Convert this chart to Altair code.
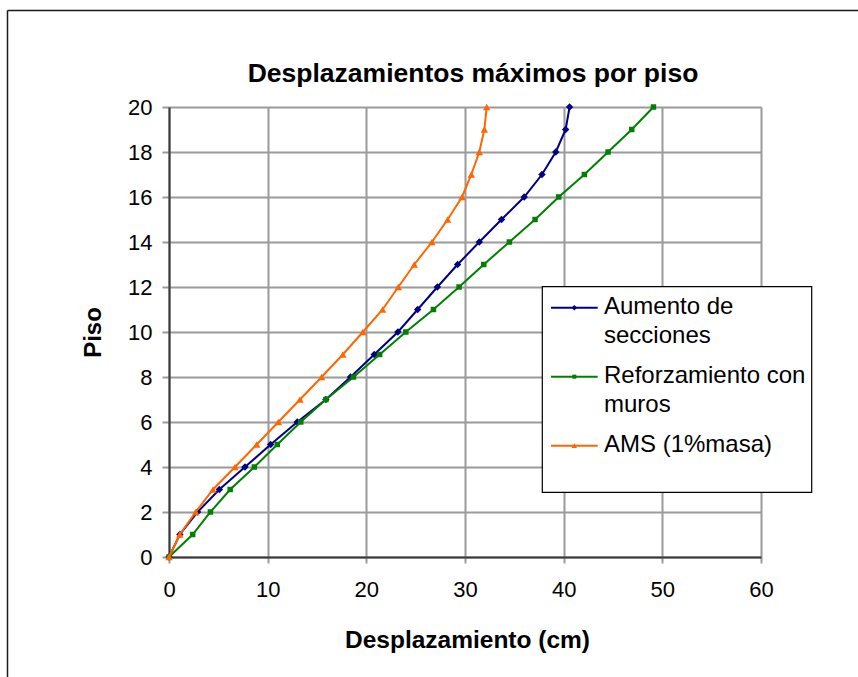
import altair as alt
import pandas as pd

# Maximum displacement per floor (cm) for each retrofit alternative
pisos = list(range(21))
aumento_secciones = [0, 1.1, 2.9, 5.1, 7.7, 10.3, 13.0, 15.9, 18.4, 20.8, 23.2,
                     25.2, 27.2, 29.25, 31.45, 33.7, 36.0, 37.8, 39.2, 40.2, 40.6]
reforzamiento_muros = [0, 2.4, 4.2, 6.2, 8.65, 10.97, 13.35, 15.9, 18.7, 21.35, 24.0,
                       26.8, 29.4, 31.9, 34.5, 37.1, 39.5, 42.1, 44.5, 46.9, 49.1]
ams_masa = [0, 1.09, 2.71, 4.46, 6.69, 8.89, 11.08, 13.28, 15.47, 17.62, 19.65,
            21.65, 23.24, 24.86, 26.65, 28.24, 29.7, 30.64, 31.45, 31.96, 32.2]

series_names = ["Aumento de secciones", "Reforzamiento con muros", "AMS (1%masa)"]
series_values = [aumento_secciones, reforzamiento_muros, ams_masa]
series_colors = ["#000080", "#008000", "#FF6600"]
series_shapes = ["diamond", "square", "triangle-up"]
series_sizes = [55, 30, 55]
legend_text = [["Aumento de", "secciones"], ["Reforzamiento con", "muros"], ["AMS (1%masa)"]]
chart_title = "Desplazamientos máximos por piso"

x_ticks = [0, 10, 20, 30, 40, 50, 60]
y_ticks = list(range(0, 21, 2))

rows = []
for name, vals in zip(series_names, series_values):
    for p, v in zip(pisos, vals):
        rows.append({"serie": name, "piso": p, "desplazamiento": v})
df = pd.DataFrame(rows)

FONT = "Liberation Sans"
W, H = 592, 450

x_enc = alt.X(
    "desplazamiento:Q",
    scale=alt.Scale(domain=[0, 60], nice=False, zero=True),
    axis=alt.Axis(
        values=x_ticks, grid=True, labelFlush=False,
        gridColor="#9a9a9a", gridWidth=2,
        domainColor="#383838", domainWidth=2,
        tickColor="#9a9a9a", tickWidth=2, tickSize=6,
        labelFont=FONT, labelFontSize=22, labelColor="black", labelPadding=16,
        title="Desplazamiento (cm)", titleFont=FONT, titleFontSize=24.5,
        titleFontWeight="bold", titleColor="black",
        titleX=298, titleY=83, titleBaseline="middle",
    ),
)
y_enc = alt.Y(
    "piso:Q",
    scale=alt.Scale(domain=[0, 20], nice=False),
    axis=alt.Axis(
        values=y_ticks, grid=True, labelFlush=False,
        gridColor="#9a9a9a", gridWidth=2,
        domainColor="#383838", domainWidth=2,
        tickColor="#9a9a9a", tickWidth=2, tickSize=7,
        labelFont=FONT, labelFontSize=22, labelColor="black", labelPadding=10,
        title="Piso", titleFont=FONT, titleFontSize=24,
        titleFontWeight="bold", titleColor="black",
        titleX=-76, titleY=225, titleAngle=270, titleBaseline="middle",
    ),
)

base = alt.Chart(df)
layers = []
for name, color, shape, size in zip(series_names, series_colors, series_shapes, series_sizes):
    sub = base.transform_filter(alt.datum.serie == name)
    layers.append(
        sub.mark_line(color=color, strokeWidth=2).encode(x=x_enc, y=y_enc, order="piso:Q")
    )
    layers.append(
        sub.mark_point(shape=shape, filled=True, color=color, size=size, opacity=1)
        .encode(x=x_enc, y=y_enc)
    )

one = alt.Data(values=[{"k": 0}])

# Outer chart-area frame (left and top edges)
frame_left = alt.Chart(one).mark_rule(color="#1a1a1a", strokeWidth=1.5).encode(
    x=alt.value(-161.5), y=alt.value(-96.5), y2=alt.value(570)
)
frame_top = alt.Chart(one).mark_rule(color="#1a1a1a", strokeWidth=1.5).encode(
    x=alt.value(-161.5), x2=alt.value(689), y=alt.value(-96.5)
)

# Chart title above the plot
title_mark = alt.Chart(one).mark_text(
    align="center", baseline="alphabetic", font=FONT, fontSize=26.5,
    fontWeight="bold", color="black",
).encode(x=alt.value(304), y=alt.value(-25), text=alt.value(chart_title))

# Legend box
legend_box = alt.Chart(one).mark_rect(fill="white", stroke="black", strokeWidth=1.2).encode(
    x=alt.value(373.3), x2=alt.value(642.7), y=alt.value(179.7), y2=alt.value(385.3)
)
legend_layers = [legend_box]
symbol_y = [200.7, 269.7, 338.7]
line_gap = 28.5
for i, (color, shape, size) in enumerate(zip(series_colors, series_shapes, series_sizes)):
    sy = symbol_y[i]
    legend_layers.append(
        alt.Chart(one).mark_rule(color=color, strokeWidth=2).encode(
            x=alt.value(382), x2=alt.value(428.7), y=alt.value(sy)
        )
    )
    legend_layers.append(
        alt.Chart(one).mark_point(shape=shape, filled=True, color=color, size=size * 0.55, opacity=1).encode(
            x=alt.value(405.3), y=alt.value(sy)
        )
    )
    for j, txt in enumerate(legend_text[i]):
        legend_layers.append(
            alt.Chart(one).mark_text(
                align="left", baseline="alphabetic", font=FONT, fontSize=24, color="black"
            ).encode(x=alt.value(435), y=alt.value(sy + 6.6 + j * line_gap), text=alt.value(txt))
        )

chart = alt.layer(frame_left, frame_top, title_mark, *layers, *legend_layers).properties(
    width=W,
    height=H,
    padding={"left": 169, "top": 107, "right": 97, "bottom": 120},
    autosize=alt.AutoSizeParams(type="none"),
).configure_view(stroke=None).configure(background="white")

chart.save("out.html", embed_options={"renderer": "svg", "actions": False})
